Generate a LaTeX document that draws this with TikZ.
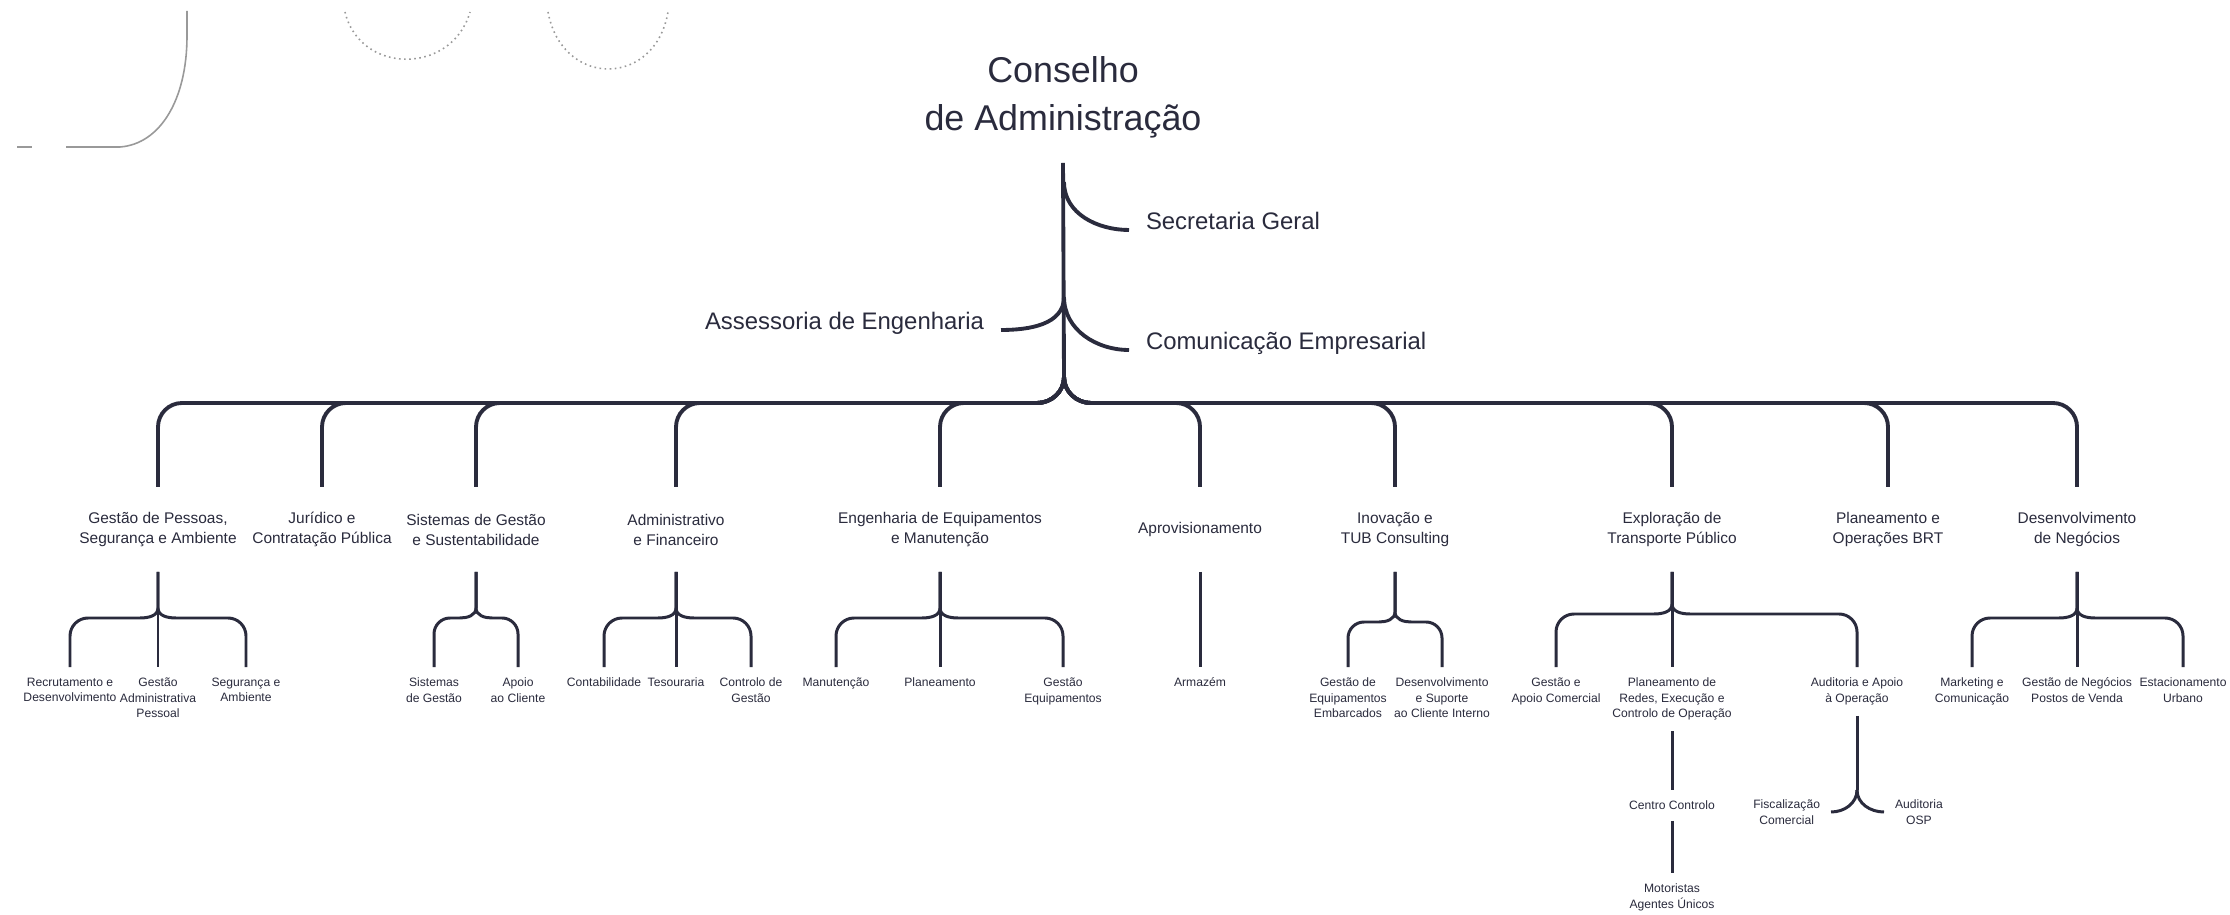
\documentclass[tikz,border=0pt]{standalone}
\usepackage{fontspec}
\setmainfont{Liberation Sans}
\usepackage{xcolor}
\usepackage{tikz}

\definecolor{ink}{HTML}{2A2B3D}

\begin{document}
\begin{tikzpicture}[
    x=0.1mm, y=0.1mm,
    every node/.style={text=ink, inner sep=0pt},
    board/.style={
        align=center,
        font=\fontsize{10.2}{13.7}\selectfont,
        outer ysep=2.5mm
    },
    office/.style={
        font=\fontsize{6.8}{8}\selectfont,
        outer xsep=1.7mm
    },
    dept/.style={
        align=center,
        font=\fontsize{4.4}{5.7}\selectfont,
        minimum height=3.5mm,
        outer ysep=2.5mm,
        anchor=north
    },
    unit/.style={
        align=center,
        font=\fontsize{3.45}{4.4}\selectfont,
        outer sep=1.1mm
    },
    mainline/.style={draw=ink, line width=1.1pt},
    subline/.style={draw=ink, line width=0.85pt},
    scrap/.style={draw=gray!80, line width=0.45pt}
]

\path[use as bounding box, fill=white] (0,0) rectangle (2230,-915);

% leftovers of a cut picture, top left
\draw[scrap] (187,-11) -- (187,-36) .. controls (187,-100) and (160,-144) .. (120,-147) -- (66,-147);
\draw[scrap] (17,-147) -- (32,-147);
\draw[scrap, densely dotted] (345,-12) .. controls (360,-75) and (452,-75) .. (470,-12);
\draw[scrap, densely dotted] (548,-12) .. controls (562,-88) and (655,-88) .. (668,-12);

\node[board, anchor=south] (conselho) at (1063,-163) {Conselho\\de Administração};

\node[office, anchor=base west] (secretaria) at (1129,-230) {Secretaria Geral};
\node[office, anchor=base east] (assessoria) at (1001,-330) {Assessoria de Engenharia};
\node[office, anchor=base west] (comunicacao) at (1129,-350) {Comunicação Empresarial};

\coordinate (secfork) at (1064,-182);
\coordinate (sidefork) at (1064,-297);
\coordinate (fork) at (1064,-377);

\draw[mainline] (conselho.south) -- (fork);
\draw[mainline] (secfork) to[out=-90,in=180] (secretaria.base west);
\draw[mainline] (sidefork) to[out=-90,in=0] (assessoria.base east);
\draw[mainline] (sidefork) to[out=-90,in=180] (comunicacao.base west);

\node[dept] (gestao) at (158,-487) {Gestão de Pessoas,\\Segurança e Ambiente};
\node[dept] (juridico) at (322,-487) {Jurídico e\\Contratação Pública};
\node[dept] (sistemas) at (476,-487) {Sistemas de Gestão\\e Sustentabilidade};
\node[dept] (admin) at (676,-487) {Administrativo\\e Financeiro};
\node[dept] (engenharia) at (940,-487) {Engenharia de Equipamentos\\e Manutenção};
\node[dept] (aprov) at (1200,-487) {Aprovisionamento};
\node[dept] (inovacao) at (1395,-487) {Inovação e\\TUB Consulting};
\node[dept] (exploracao) at (1672,-487) {Exploração de\\Transporte Público};
\node[dept] (brt) at (1888,-487) {Planeamento e\\Operações BRT};
\node[dept] (desenv) at (2077,-487) {Desenvolvimento\\de Negócios};

\draw[mainline] (fork) to[out=-90,in=0] ++(-27,-26) [rounded corners=2.4mm] -| (gestao.north);
\draw[mainline] (fork) to[out=-90,in=0] ++(-27,-26) [rounded corners=2.4mm] -| (juridico.north);
\draw[mainline] (fork) to[out=-90,in=0] ++(-27,-26) [rounded corners=2.4mm] -| (sistemas.north);
\draw[mainline] (fork) to[out=-90,in=0] ++(-27,-26) [rounded corners=2.4mm] -| (admin.north);
\draw[mainline] (fork) to[out=-90,in=0] ++(-27,-26) [rounded corners=2.4mm] -| (engenharia.north);
\draw[mainline] (fork) to[out=-90,in=180] ++(27,-26) [rounded corners=2.4mm] -| (aprov.north);
\draw[mainline] (fork) to[out=-90,in=180] ++(27,-26) [rounded corners=2.4mm] -| (inovacao.north);
\draw[mainline] (fork) to[out=-90,in=180] ++(27,-26) [rounded corners=2.4mm] -| (exploracao.north);
\draw[mainline] (fork) to[out=-90,in=180] ++(27,-26) [rounded corners=2.4mm] -| (brt.north);
\draw[mainline] (fork) to[out=-90,in=180] ++(27,-26) [rounded corners=2.4mm] -| (desenv.north);

\node[unit, anchor=north] (recrut) at (70,-667) {Recrutamento e\\Desenvolvimento};
\node[unit, anchor=north] (gestadm) at (158,-667) {Gestão\\Administrativa\\Pessoal};
\node[unit, anchor=north] (segamb) at (246,-667) {Segurança e\\Ambiente};

\node[unit, anchor=north] (sisgest) at (434,-667) {Sistemas\\de Gestão};
\node[unit, anchor=north] (apoiocli) at (518,-667) {Apoio\\ao Cliente};

\node[unit, anchor=north] (contab) at (604,-667) {Contabilidade};
\node[unit, anchor=north] (tesour) at (676,-667) {Tesouraria};
\node[unit, anchor=north] (ctrlgest) at (751,-667) {Controlo de\\Gestão};

\node[unit, anchor=north] (manut) at (836,-667) {Manutenção};
\node[unit, anchor=north] (planeam) at (940,-667) {Planeamento};
\node[unit, anchor=north] (gestequip) at (1063,-667) {Gestão\\Equipamentos};

\node[unit, anchor=north] (armazem) at (1200,-667) {Armazém};

\node[unit, anchor=north] (gestemb) at (1348,-667) {Gestão de\\Equipamentos\\Embarcados};
\node[unit, anchor=north] (desensup) at (1442,-667) {Desenvolvimento\\e Suporte\\ao Cliente Interno};

\node[unit, anchor=north] (gestapoio) at (1556,-667) {Gestão e\\Apoio Comercial};
\node[unit, anchor=north] (planredes) at (1672,-667) {Planeamento de\\Redes, Execução e\\Controlo de Operação};
\node[unit, anchor=north] (auditoria) at (1857,-667) {Auditoria e Apoio\\à Operação};

\node[unit, anchor=north] (marketing) at (1972,-667) {Marketing e\\Comunicação};
\node[unit, anchor=north] (gestneg) at (2077,-667) {Gestão de Negócios\\Postos de Venda};
\node[unit, anchor=north] (estac) at (2183,-667) {Estacionamento\\Urbano};

\node[unit, anchor=north] (centro) at (1672,-790) {Centro Controlo};
\node[unit, anchor=north] (motoristas) at (1672,-873) {Motoristas\\Agentes Únicos};
\node[unit, anchor=east] (fiscal) at (1831,-812) {Fiscalização\\Comercial};
\node[unit, anchor=west] (audosp) at (1884,-812) {Auditoria\\OSP};

\coordinate (audfork) at (1857,-790);

\draw[subline] (gestao.south) -- ++(0,-36) to[out=-90,in=0] ++(-18,-10) [rounded corners=1.8mm] -| (recrut.north);
\draw[subline] (gestao.south) -- (gestadm.north);
\draw[subline] (gestao.south) -- ++(0,-36) to[out=-90,in=180] ++(18,-10) [rounded corners=1.8mm] -| (segamb.north);

\draw[subline] (sistemas.south) -- ++(0,-36) to[out=-90,in=0] ++(-16,-10) [rounded corners=1.6mm] -| (sisgest.north);
\draw[subline] (sistemas.south) -- ++(0,-36) to[out=-90,in=180] ++(16,-10) [rounded corners=1.6mm] -| (apoiocli.north);

\draw[subline] (admin.south) -- ++(0,-36) to[out=-90,in=0] ++(-18,-10) [rounded corners=1.8mm] -| (contab.north);
\draw[subline] (admin.south) -- (tesour.north);
\draw[subline] (admin.south) -- ++(0,-36) to[out=-90,in=180] ++(18,-10) [rounded corners=1.8mm] -| (ctrlgest.north);

\draw[subline] (engenharia.south) -- ++(0,-36) to[out=-90,in=0] ++(-18,-10) [rounded corners=1.8mm] -| (manut.north);
\draw[subline] (engenharia.south) -- (planeam.north);
\draw[subline] (engenharia.south) -- ++(0,-36) to[out=-90,in=180] ++(18,-10) [rounded corners=1.8mm] -| (gestequip.north);

\draw[subline] (aprov.south) -- (armazem.north);

\draw[subline] (inovacao.south) -- ++(0,-40) to[out=-90,in=0] ++(-16,-10) [rounded corners=1.6mm] -| (gestemb.north);
\draw[subline] (inovacao.south) -- ++(0,-40) to[out=-90,in=180] ++(16,-10) [rounded corners=1.6mm] -| (desensup.north);

\draw[subline] (exploracao.south) -- ++(0,-32) to[out=-90,in=0] ++(-18,-10) [rounded corners=1.8mm] -| (gestapoio.north);
\draw[subline] (exploracao.south) -- (planredes.north);
\draw[subline] (exploracao.south) -- ++(0,-32) to[out=-90,in=180] ++(18,-10) [rounded corners=1.8mm] -| (auditoria.north);

\draw[subline] (planredes.south) -- (centro.north);
\draw[subline] (centro.south) -- (motoristas.north);
\draw[subline] (auditoria.south) -- (audfork);
\draw[subline] (audfork) to[out=-90,in=0] (fiscal.east);
\draw[subline] (audfork) to[out=-90,in=180] (audosp.west);

\draw[subline] (desenv.south) -- ++(0,-36) to[out=-90,in=0] ++(-18,-10) [rounded corners=1.8mm] -| (marketing.north);
\draw[subline] (desenv.south) -- (gestneg.north);
\draw[subline] (desenv.south) -- ++(0,-36) to[out=-90,in=180] ++(18,-10) [rounded corners=1.8mm] -| (estac.north);

\end{tikzpicture}
\end{document}
